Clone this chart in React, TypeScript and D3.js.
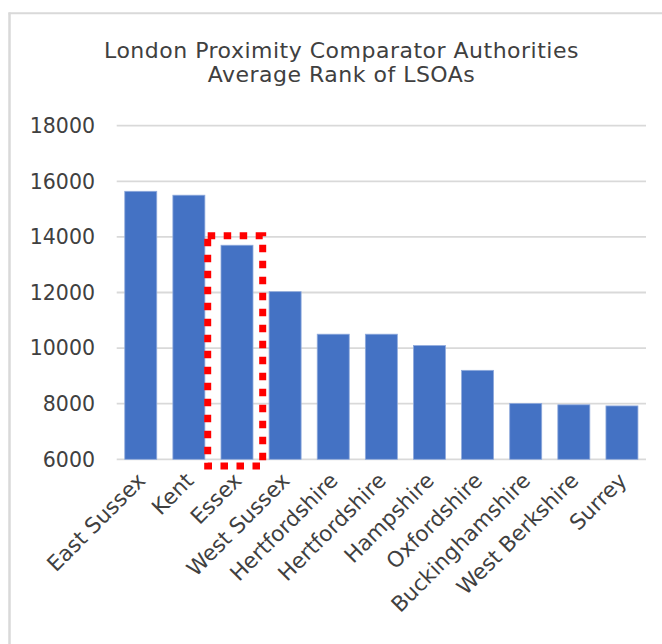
import React from "react";
import * as d3 from "d3";

const categories = [
  "East Sussex",
  "Kent",
  "Essex",
  "West Sussex",
  "Hertfordshire",
  "Hertfordshire",
  "Hampshire",
  "Oxfordshire",
  "Buckinghamshire",
  "West Berkshire",
  "Surrey",
];
const values = [15640, 15500, 13700, 12030, 10500, 10500, 10090, 9200, 8010, 7960, 7920];
const yTicks = [6000, 8000, 10000, 12000, 14000, 16000, 18000];
const titleLines = ["London Proximity Comparator Authorities", "Average Rank of LSOAs"];
const highlighted = "Essex";

const W = 662;
const H = 644;
const FONT = "'Century Gothic', 'URW Gothic', 'DejaVu Sans', sans-serif";
const TEXT = "#404040";

export default function App() {
  const idx = categories.map((_, i) => String(i));
  const x = d3
    .scaleBand<string>()
    .domain(idx)
    .range([116.7, 646])
    .paddingInner(0.335)
    .paddingOuter(0.1675);
  const y = d3.scaleLinear().domain([6000, 18000]).range([459.3, 125.7]);

  const hi = categories.indexOf(highlighted);
  const hx = x(String(hi))!;
  const bw = x.bandwidth();

  return (
    <svg
      width={W}
      height={H}
      style={{ position: "absolute", left: 0, top: 0, background: "#fff" }}
      fontFamily={FONT}
    >
      <rect x={0} y={0} width={W} height={H} fill="#fff" />
      {/* frame */}
      <line x1={9.5} x2={9.5} y1={12.5} y2={H} stroke="#d9d9d9" strokeWidth={2.5} />
      <line x1={8.5} x2={W} y1={13.3} y2={13.3} stroke="#d9d9d9" strokeWidth={2} />

      {/* title */}
      {titleLines.map((t, i) => (
        <text
          key={i}
          x={341.5}
          y={58.3 + i * 23.7}
          textAnchor="middle"
          fontSize={22}
          letterSpacing={0.5}
          fill={TEXT}
        >
          {t}
        </text>
      ))}

      {/* gridlines */}
      {yTicks.map((t) => (
        <line
          key={t}
          x1={116.7}
          x2={646}
          y1={y(t)}
          y2={y(t)}
          stroke="#d9d9d9"
          strokeWidth={1.8}
        />
      ))}
      {/* y labels */}
      {yTicks.map((t) => (
        <text
          key={t}
          x={95}
          y={y(t)}
          dy="0.36em"
          textAnchor="end"
          fontSize={20.5}
          fill={TEXT}
        >
          {t}
        </text>
      ))}

      {/* bars */}
      {values.map((v, i) => (
        <rect
          key={i}
          x={x(String(i))!}
          y={y(v)}
          width={bw}
          height={y(6000) - y(v)}
          fill="#4472c4"
          stroke="#8faadc"
          strokeWidth={0.8}
        />
      ))}

      {/* x labels */}
      {categories.map((c, i) => {
        const cx = x(String(i))! + bw / 2 + 6;
        const cy = 482;
        return (
          <text
            key={i}
            transform={`translate(${cx},${cy}) rotate(-45)`}
            textAnchor="end"
            fontSize={21.5}
            fill={TEXT}
          >
            {c}
          </text>
        );
      })}

      {/* highlight box */}
      <rect
        x={hx - 13.3}
        y={y(14000) - 1.2}
        width={bw + 41 - 13.3 - 13.3 + 8.6}
        height={y(6000) + 6.7 - (y(14000) - 1.2)}
        fill="none"
        stroke="#ff0000"
        strokeWidth={7}
        strokeDasharray="7.5 8.5"
      />
    </svg>
  );
}
